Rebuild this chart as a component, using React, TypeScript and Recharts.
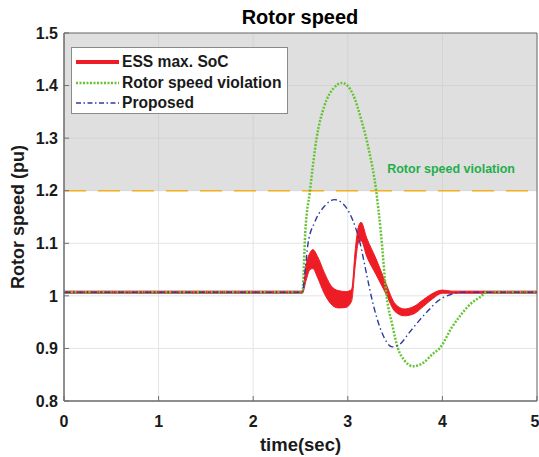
import {
  Area,
  CartesianGrid,
  ComposedChart,
  Legend,
  Line,
  ReferenceArea,
  ReferenceLine,
  XAxis,
  YAxis,
} from 'recharts';

// ---------------------------------------------------------------------------
// Data
// ---------------------------------------------------------------------------

const xTicks = [0, 1, 2, 3, 4, 5];
const yTicks = [0.8, 0.9, 1, 1.1, 1.2, 1.3, 1.4, 1.5];
const violationLimit = 1.2;

// ESS max. SoC: oscillating band, lower and upper envelope
const essTime = [0, 2.52, 2.56, 2.6, 2.63, 2.68, 2.75, 2.82, 2.9, 2.98, 3.04, 3.08, 3.11, 3.14, 3.2, 3.3, 3.4, 3.5, 3.6, 3.7, 3.8, 3.9, 4.0, 4.1, 5];
const essLow = [1.005, 1.005, 1.03, 1.05, 1.052, 1.035, 1.005, 0.985, 0.977, 0.978, 0.99, 1.06, 1.1, 1.105, 1.075, 1.04, 1.005, 0.97, 0.962, 0.966, 0.98, 0.995, 1.005, 1.005, 1.005];
const essHigh = [1.009, 1.009, 1.06, 1.082, 1.088, 1.075, 1.045, 1.02, 1.01, 1.008, 1.012, 1.09, 1.13, 1.14, 1.11, 1.07, 1.025, 0.985, 0.975, 0.98, 0.993, 1.005, 1.011, 1.009, 1.009];

// Rotor speed violation
const violationTime = [0, 2.52, 2.55, 2.6, 2.67, 2.75, 2.85, 2.94, 3.05, 3.15, 3.22, 3.3, 3.35, 3.41, 3.47, 3.53, 3.6, 3.69, 3.8, 3.9, 3.97, 4.1, 4.2, 4.3, 4.4, 4.47, 5];
const violationSpeed = [1.007, 1.007, 1.12, 1.2, 1.3, 1.36, 1.395, 1.405, 1.385, 1.33, 1.28, 1.2, 1.12, 1.0, 0.945, 0.9, 0.877, 0.866, 0.873, 0.89, 0.9, 0.94, 0.965, 0.985, 0.998, 1.007, 1.007];

// Proposed
const proposedTime = [0, 2.52, 2.55, 2.58, 2.65, 2.75, 2.86, 2.95, 3.05, 3.13, 3.2, 3.26, 3.35, 3.47, 3.55, 3.65, 3.75, 3.85, 3.95, 4.05, 4.2, 5];
const proposedSpeed = [1.007, 1.007, 1.05, 1.1, 1.14, 1.17, 1.183, 1.175, 1.145, 1.1, 1.04, 0.99, 0.935, 0.903, 0.908, 0.93, 0.952, 0.972, 0.99, 1.0, 1.007, 1.007];

const essData = essTime.map((t, i) => ({ t, band: [essLow[i], essHigh[i]] }));
const violationData = violationTime.map((t, i) => ({ t, speed: violationSpeed[i] }));
const proposedData = proposedTime.map((t, i) => ({ t, speed: proposedSpeed[i] }));

// ---------------------------------------------------------------------------
// Styles
// ---------------------------------------------------------------------------

const FONT = "'Liberation Sans', Arial, Helvetica, sans-serif";
const RED = '#ee1c25';
const GREEN = '#66c434';
const BLUE = '#2f3c9e';
const AXIS = '#6e6e6e';
const TEXT = '#1a1a1a';

const legendItems = [
  { label: 'ESS max. SoC', color: RED, width: 4, dash: undefined },
  { label: 'Rotor speed violation', color: GREEN, width: 2.5, dash: '2 1.5' },
  { label: 'Proposed', color: BLUE, width: 1.3, dash: '5 2.5 1.5 2.5' },
];

function LegendBox() {
  return (
    <div
      style={{
        width: 217,
        height: 67,
        boxSizing: 'border-box',
        border: '1px solid #8a8a8a',
        background: '#fff',
        padding: '4px 0 0 3px',
        fontFamily: FONT,
        fontWeight: 'bold',
        fontSize: 15.6,
        color: TEXT,
      }}
    >
      {legendItems.map((it) => (
        <div key={it.label} style={{ display: 'flex', alignItems: 'center', height: 20.5 }}>
          <svg width={47} height={20} style={{ flex: 'none' }}>
            <line x1={1} x2={44} y1={10} y2={10} stroke={it.color} strokeWidth={it.width} strokeDasharray={it.dash} />
          </svg>
          <span style={{ whiteSpace: 'nowrap' }}>{it.label}</span>
        </div>
      ))}
    </div>
  );
}

function ViolationLabel(props: any) {
  const vb = props.viewBox ?? {};
  return (
    <text
      x={vb.x + vb.width - 22}
      y={vb.y - 18}
      textAnchor="end"
      fill="#1fae4b"
      fontFamily={FONT}
      fontWeight="bold"
      fontSize={12.5}
    >
      Rotor speed violation
    </text>
  );
}

export default function App() {
  return (
    <div style={{ position: 'absolute', left: 0, top: 0, width: 539, height: 457, background: '#fff' }}>
      <div
        style={{
          position: 'absolute',
          left: 200,
          width: 200,
          top: 5,
          textAlign: 'center',
          fontFamily: FONT,
          fontWeight: 'bold',
          fontSize: 20,
          color: '#000',
          lineHeight: '24px',
        }}
      >
        Rotor speed
      </div>
      <ComposedChart width={539} height={457} margin={{ top: 33, right: 2, bottom: 0, left: 0 }}>
        <CartesianGrid stroke="#e4e4e4" strokeWidth={1} horizontalValues={yTicks} verticalValues={xTicks} />
        <ReferenceArea
          x1={0}
          x2={5}
          y1={violationLimit}
          y2={1.5}
          fill="#c4c4c4"
          fillOpacity={0.55}
          stroke="none"
          ifOverflow="visible"
        />
        <XAxis
          type="number"
          dataKey="t"
          domain={[0, 5]}
          ticks={xTicks}
          allowDataOverflow
          height={56}
          stroke={AXIS}
          tickSize={-5}
          tickMargin={20}
          tick={{ fill: TEXT, fontFamily: FONT, fontWeight: 'bold', fontSize: 16 }}
          label={{
            value: 'time(sec)',
            position: 'insideBottom',
            offset: 6,
            fill: TEXT,
            fontFamily: FONT,
            fontWeight: 'bold',
            fontSize: 18.5,
          }}
        />
        <YAxis
          type="number"
          domain={[0.8, 1.5]}
          ticks={yTicks}
          allowDataOverflow
          width={64}
          stroke={AXIS}
          tickSize={-5}
          tickMargin={11}
          tickFormatter={(v: number) => String(Number(v.toFixed(1)))}
          tick={{ fill: TEXT, fontFamily: FONT, fontWeight: 'bold', fontSize: 16 }}
          label={{
            value: 'Rotor speed (pu)',
            angle: -90,
            position: 'insideLeft',
            offset: 18,
            style: { textAnchor: 'middle', fill: TEXT, fontFamily: FONT, fontWeight: 'bold', fontSize: 18 },
          }}
        />
        <ReferenceLine
          y={violationLimit}
          stroke="#f2b01e"
          strokeWidth={1.5}
          strokeDasharray="22 12"
          label={<ViolationLabel />}
        />
        <Area
          data={essData}
          dataKey="band"
          type="monotone"
          stroke={RED}
          strokeWidth={1}
          fill={RED}
          fillOpacity={1}
          dot={false}
          activeDot={false}
          isAnimationActive={false}
        />
        <Line
          data={violationData}
          dataKey="speed"
          type="monotone"
          stroke={GREEN}
          strokeWidth={2.5}
          strokeDasharray="2 1.5"
          dot={false}
          activeDot={false}
          isAnimationActive={false}
        />
        <Line
          data={proposedData}
          dataKey="speed"
          type="monotone"
          stroke={BLUE}
          strokeWidth={1.4}
          strokeDasharray="6 3 1.5 3"
          dot={false}
          activeDot={false}
          isAnimationActive={false}
        />
        <ReferenceArea x1={0} x2={5} y1={0.8} y2={1.5} fill="none" stroke={AXIS} strokeWidth={1} ifOverflow="visible" />
        <Legend
          layout="vertical"
          align="center"
          verticalAlign="middle"
          content={() => <LegendBox />}
          wrapperStyle={{ position: 'absolute', left: 71, top: 47, width: 217, height: 67 }}
        />
      </ComposedChart>
    </div>
  );
}
